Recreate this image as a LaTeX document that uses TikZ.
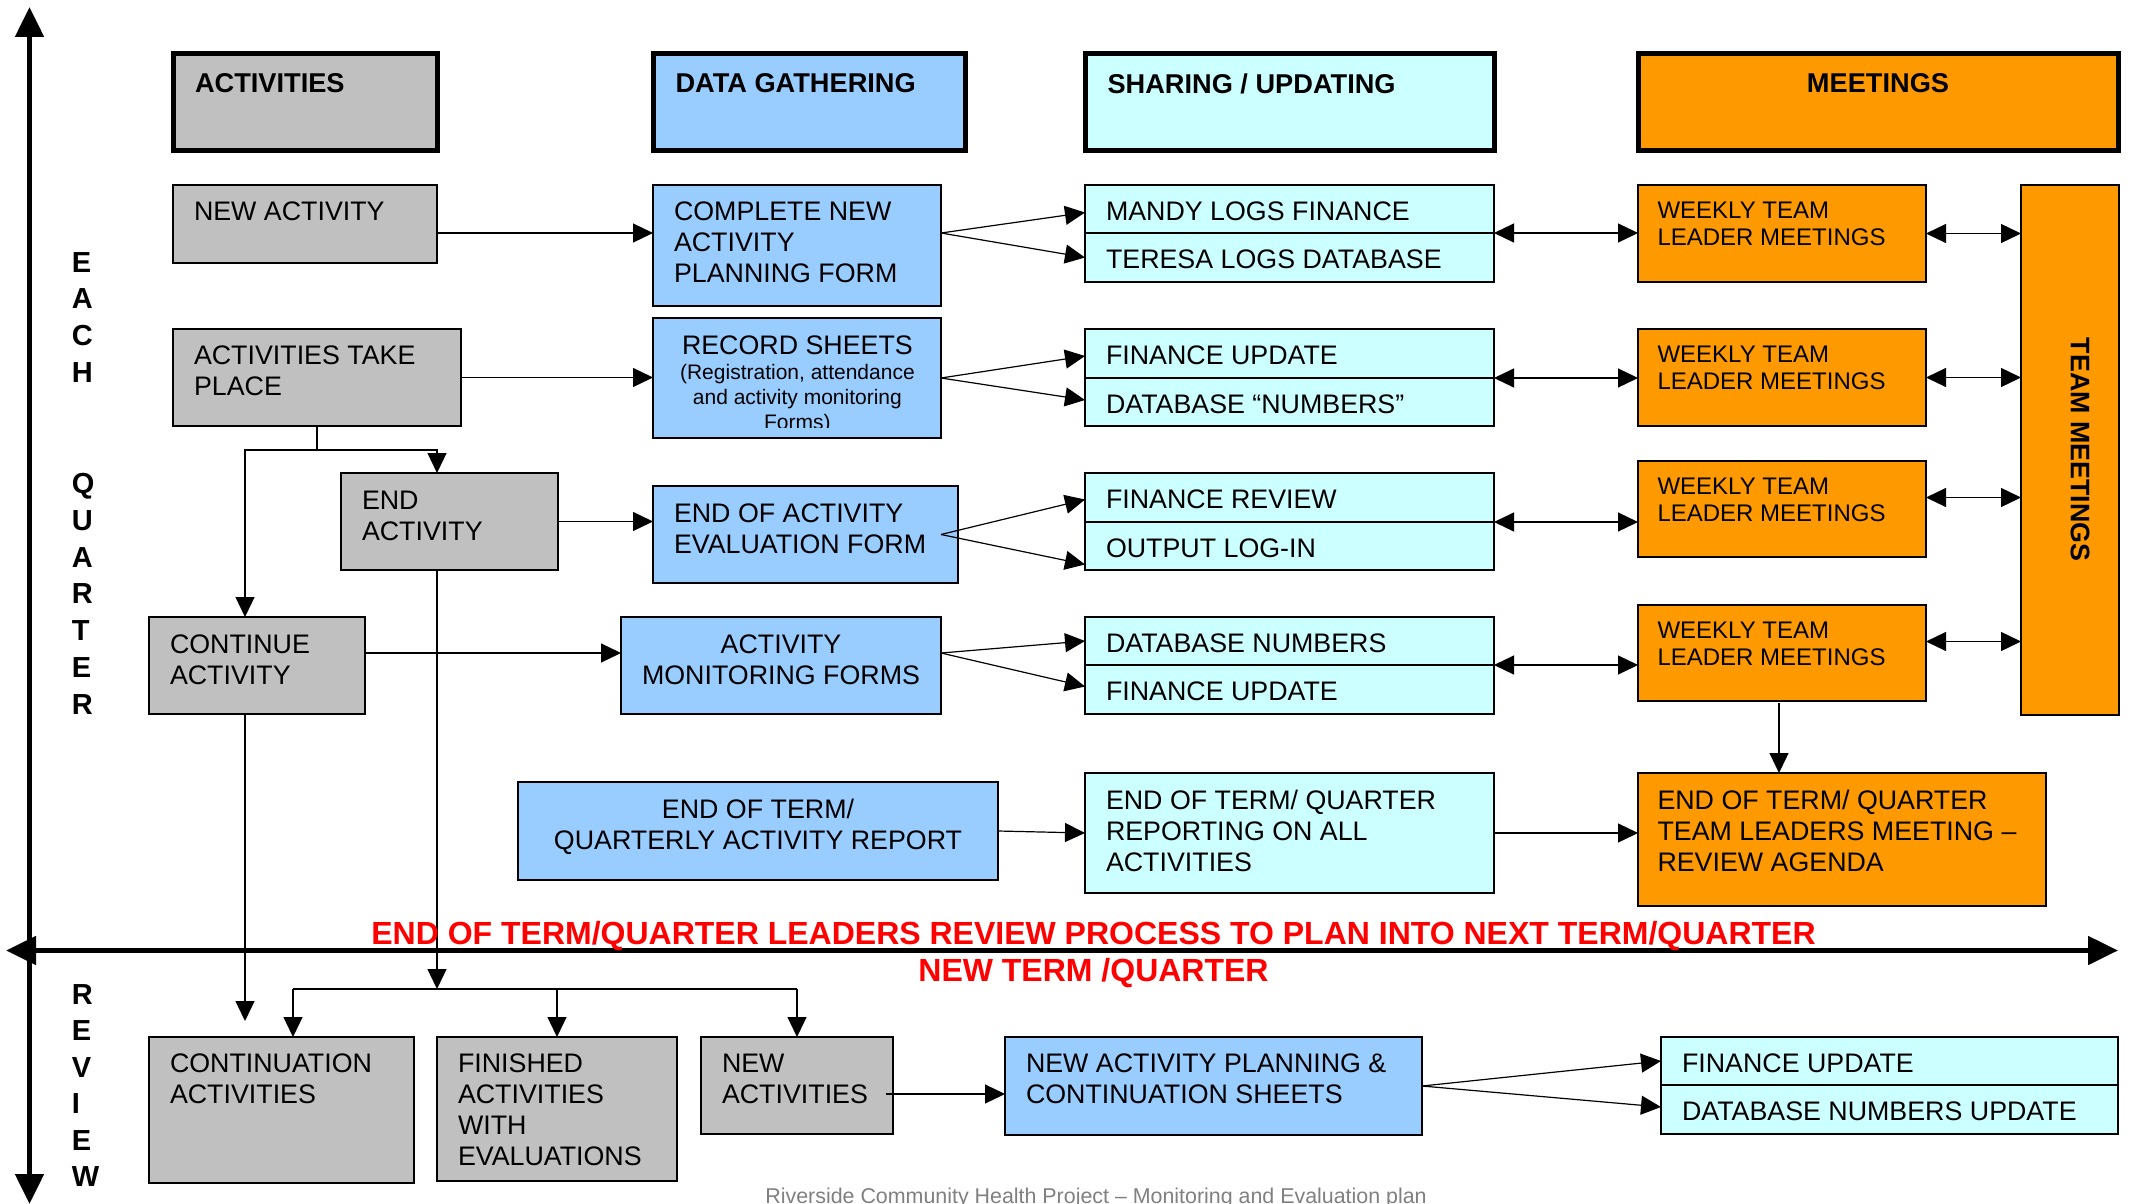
\documentclass[tikz,border=0pt]{standalone}
\usepackage{fontspec}
\setmainfont{Liberation Sans}
\usetikzlibrary{arrows.meta,calc}
\definecolor{cgray}{HTML}{C0C0C0}
\definecolor{cblue}{HTML}{99CCFF}
\definecolor{ccyan}{HTML}{CCFFFF}
\definecolor{corange}{HTML}{FF9900}
\definecolor{cred}{HTML}{FF0000}
\definecolor{cfoot}{HTML}{808080}
\newcommand\fbody{\fontsize{13.4pt}{15.4pt}\selectfont}
\newcommand\fhead{\fontsize{13.6pt}{15.4pt}\selectfont\bfseries}
\newcommand\fweek{\fontsize{12pt}{13.5pt}\selectfont}
\newcommand\fsub{\fontsize{10.5pt}{12.5pt}\selectfont}
% #1 width px, #2 height px, #3 left pad px, #4 top pad px, #5 text
\newcommand\bt[5]{\parbox[c][\dimexpr #2pt/2\relax][t]{\dimexpr #1pt/2\relax}{\vskip\dimexpr #4pt/2\relax\relax\raggedright\leftskip=\dimexpr #3pt/2\relax\relax #5\par}}
% #1 width px, #2 height px, #3 top pad px, #4 text
\newcommand\btc[4]{\parbox[c][\dimexpr #2pt/2\relax][t]{\dimexpr #1pt/2\relax}{\vskip\dimexpr #3pt/2\relax\relax\centering #4\par}}
\tikzset{
 bx/.style={draw=black, line width=0.7pt, inner sep=0pt, outer sep=0pt, anchor=north west, font=\fbody},
 hbx/.style={bx, line width=2.5pt, font=\fhead},
 fgray/.style={fill=cgray}, fblue/.style={fill=cblue}, fcyan/.style={fill=ccyan}, forange/.style={fill=corange},
 ln/.style={line width=0.6pt},
 con/.style={ln, -{Triangle[length=10pt,width=9.5pt]}},
 dcon/.style={ln, {Triangle[length=10pt,width=9.5pt]}-{Triangle[length=10pt,width=9.5pt]}},
 axisln/.style={line width=2.5pt, {Triangle[length=15pt,width=14pt]}-{Triangle[length=15pt,width=14pt]}},
 sidelbl/.style={anchor=base west, inner sep=0pt, font=\fontsize{14.5pt}{14.5pt}\selectfont\bfseries},
 redtxt/.style={anchor=base west, inner sep=0pt, text=cred, font=\fontsize{16pt}{16pt}\selectfont\bfseries},
}
\begin{document}
\begin{tikzpicture}[x=0.5pt,y=-0.5pt]
\useasboundingbox (0,0) rectangle (2130,1204);
\fill[white] (0,0) rectangle (2130,1204);

% axes
\coordinate (vt) at (29.5,7); \coordinate (vb) at (29.5,1204);
\coordinate (hl) at (6,950.5); \coordinate (hr) at (2118,950.5);
\draw[axisln] (vt) -- (vb);
\draw[axisln] (hl) -- (hr);

% headers
\node[hbx,fgray] (hact) at (173,54) {\bt{264}{96}{22}{19.3}{ACTIVITIES}};
\node[hbx,fblue] (hdat) at (653,54) {\bt{312}{96}{22.5}{19.3}{DATA GATHERING}};
\node[hbx,fcyan] (hsha) at (1085,54) {\bt{409}{96}{22.5}{19.3}{SHARING / UPDATING}};
\node[hbx,forange] (hmee) at (1638,54) {\btc{480}{96}{19.3}{MEETINGS}};

% column 1
\node[bx,fgray] (na) at (173,185) {\bt{264}{78}{21}{17}{NEW ACTIVITY}};
\node[bx,fgray] (atp) at (173,329) {\bt{288}{97}{21}{17}{ACTIVITIES TAKE\\PLACE}};
\node[bx,fgray] (ea) at (341,473) {\bt{217}{97}{21}{18}{END\\ACTIVITY}};
\node[bx,fgray] (ca) at (149,617) {\bt{216}{97}{21}{17.5}{CONTINUE\\ACTIVITY}};

% column 2
\node[bx,fblue] (cnf) at (653,185) {\bt{288}{121}{21}{17}{COMPLETE NEW\\ACTIVITY\\PLANNING FORM}};
\node[bx,fblue,minimum width=144pt,minimum height=60pt] (rs) at (653,318) {};
\begin{scope}
 \clip (rs.north west) rectangle ($(rs.south east)+(0,-11)$);
 \node[anchor=north west,inner sep=0pt,font=\fbody] (rst) at (rs.north west) {\btc{288}{120}{17}{{\fbody RECORD SHEETS}\\\fsub (Registration, attendance\\and activity monitoring\\Forms)}};
\end{scope}
\node[bx,fblue] (eef) at (653,486) {\bt{305}{97}{21}{18}{END OF ACTIVITY\\EVALUATION FORM}};
\node[bx,fblue] (amf) at (621,617) {\btc{320}{97}{17.7}{ACTIVITY\\MONITORING FORMS}};
\node[bx,fblue] (rep) at (518,782) {\btc{480}{98}{17.5}{END OF TERM/\\QUARTERLY ACTIVITY REPORT}};

% column 3
\node[bx,fcyan] (s1a) at (1085,185) {\bt{409}{48}{21}{17}{MANDY LOGS FINANCE}};
\node[bx,fcyan] (s1b) at (1085,233) {\bt{409}{49}{21}{17}{TERESA LOGS DATABASE}};
\node[bx,fcyan] (s2a) at (1085,329) {\bt{409}{49}{21}{17}{FINANCE UPDATE}};
\node[bx,fcyan] (s2b) at (1085,378) {\bt{409}{48}{21}{17}{DATABASE “NUMBERS”}};
\node[bx,fcyan] (s3a) at (1085,473) {\bt{409}{49}{21}{17}{FINANCE REVIEW}};
\node[bx,fcyan] (s3b) at (1085,522) {\bt{409}{48}{21}{17}{OUTPUT LOG-IN}};
\node[bx,fcyan] (s4a) at (1085,617) {\bt{409}{48}{21}{17}{DATABASE NUMBERS}};
\node[bx,fcyan] (s4b) at (1085,665) {\bt{409}{49}{21}{17}{FINANCE UPDATE}};
\node[bx,fcyan] (s5) at (1085,773) {\bt{409}{120}{21}{17}{END OF TERM/ QUARTER\\REPORTING ON ALL\\ACTIVITIES}};

% column 4
\node[bx,forange] (w1) at (1638,185) {\bt{288}{97}{19.5}{17}{\fweek WEEKLY TEAM\\LEADER MEETINGS}};
\node[bx,forange] (w2) at (1638,329) {\bt{288}{97}{19.5}{17}{\fweek WEEKLY TEAM\\LEADER MEETINGS}};
\node[bx,forange] (w3) at (1638,461) {\bt{288}{96}{19.5}{17}{\fweek WEEKLY TEAM\\LEADER MEETINGS}};
\node[bx,forange] (w4) at (1638,605) {\bt{288}{96}{19.5}{17}{\fweek WEEKLY TEAM\\LEADER MEETINGS}};
\node[bx,forange,minimum width=49pt,minimum height=265pt] (tm) at (2021,185) {};
\node[rotate=-90, inner sep=0pt, font=\fontsize{13.4pt}{13.4pt}\selectfont\bfseries] (tmt) at (2080,449.5) {TEAM MEETINGS};
\node[bx,forange] (tl) at (1638,773) {\bt{408}{133}{19.5}{17}{END OF TERM/ QUARTER\\TEAM LEADERS MEETING –\\REVIEW AGENDA}};

% bottom row
\node[bx,fgray] (cont2) at (149,1037) {\bt{265}{146}{21}{17}{CONTINUATION\\ACTIVITIES}};
\node[bx,fgray] (fin) at (437,1037) {\bt{240}{144}{21}{17}{FINISHED\\ACTIVITIES\\WITH\\EVALUATIONS}};
\node[bx,fgray] (newa) at (701,1037) {\bt{192}{97}{21}{17}{NEW\\ACTIVITIES}};
\node[bx,fblue] (nap) at (1005,1037) {\bt{417}{98}{21}{17}{NEW ACTIVITY PLANNING \&\\CONTINUATION SHEETS}};
\node[bx,fcyan] (bfu) at (1661,1037) {\bt{457}{48}{21}{17}{FINANCE UPDATE}};
\node[bx,fcyan] (bdb) at (1661,1085) {\bt{457}{49}{21}{17}{DATABASE NUMBERS UPDATE}};

% row 1 connectors
\draw[con] ($(na.north east)+(0,48)$) -- ($(cnf.north west)+(0,48)$);
\coordinate (cnfo) at ($(cnf.north east)+(0,48)$);
\draw[con] (cnfo) -- ($(s1a.west)+(0,3.5)$);
\draw[con] (cnfo) -- (s1b.west);
\draw[dcon] (s1a.south east) -- (s1a.south east -| w1.west);
\draw[dcon] (w1.east) -- (w1.east -| tm.west);

% row 2
\draw[con] (atp.east) -- (atp.east -| rs.west);
\draw[con] (rs.east) -- ($(s2a.west)+(0,2.5)$);
\draw[con] (rs.east) -- ($(s2b.west)+(0,-2)$);
\draw[dcon] (s2a.south east) -- (s2a.south east -| w2.west);
\draw[dcon] (w2.east) -- (w2.east -| tm.west);

% row 3
\draw[con] (ea.east) -- (ea.east -| eef.west);
\coordinate (eefo) at ($(eef.east)+(-17,0)$);
\draw[con] (eefo) -- ($(s3a.west)+(0,2)$);
\draw[con] (eefo) -- ($(s3b.west)+(0,18.5)$);
\draw[dcon] (s3a.south east) -- (s3a.south east -| w3.west);
\coordinate (w3r) at ($(w3.north east)+(0,36.5)$);
\draw[dcon] (w3r) -- (w3r -| tm.west);

% row 4
\coordinate (cao) at ($(ca.north east)+(0,36)$);
\draw[con] (cao) -- (cao -| amf.west);
\coordinate (amfo) at ($(amf.north east)+(0,36)$);
\draw[con] (amfo) -- (s4a.west);
\draw[con] (amfo) -- ($(s4b.west)+(0,-3)$);
\draw[dcon] (s4a.south east) -- (s4a.south east -| w4.west);
\coordinate (w4r) at ($(w4.north east)+(0,36.5)$);
\draw[dcon] (w4r) -- (w4r -| tm.west);
\draw[con] ($(w4.south)+(-3,2)$) -- ($(tl.north west)+(141,0)$);

% row 5
\draw[con] (rep.east) -- (s5.west);
\draw[con] (s5.east) -- (s5.east -| tl.west);

% left side flow
\coordinate (jt) at ($(atp.south)+(0,24)$);
\draw[ln] (atp.south) -- (jt);
\draw[con] (jt) -| ($(ea.north west)+(96,0)$);
\draw[con] (jt) -| ($(ca.north west)+(96,0)$);
\draw[con] ($(ca.south west)+(96,0)$) -- ($(cont2.north west)+(96,-16)$);
\coordinate (jd) at ($(fin.north west)+(0,-48)$);
\draw[con] ($(ea.south west)+(96,0)$) -- (jd);
\coordinate (dl) at ($(cont2.north west)+(144,-48)$);
\coordinate (dr) at ($(newa.north)+(0,-48)$);
\draw[ln] (dl) -- (dr);
\draw[con] (dl) -- (dl |- cont2.north);
\draw[con] (fin.north |- dl) -- (fin.north);
\draw[con] (dr) -- (newa.north);
\coordinate (nao) at ($(newa.north east)+(-7,57)$);
\draw[con] (nao) -- (nao -| nap.west);
\draw[con] (nap.east) -- (bfu.west);
\draw[con] (nap.east) -- ($(bdb.west)+(0,-2.5)$);

% side letters
\foreach \l [count=\i from 0] in {E,A,C,H}
  \node[sidelbl] (each\i) at (71.5, 272.1+36.8*\i) {\l};
\foreach \l [count=\i from 0] in {Q,U,A,R,T,E,R}
  \node[sidelbl] (quar\i) at (71.5, 493.5+36.8*\i) {\l};
\foreach \l [count=\i from 0] in {R,E,V,I,E,W}
  \node[sidelbl] (rev\i) at (71.5, 1004.2+36.5*\i) {\l};

% red texts
\node[redtxt] (rt1) at (371,944) {END OF TERM/QUARTER LEADERS REVIEW PROCESS TO PLAN INTO NEXT TERM/QUARTER};
\node[redtxt] (rt2) at (918,981.4) {NEW TERM /QUARTER};

% footer
\node[anchor=base west, inner sep=0pt, text=cfoot, font=\fontsize{10.7pt}{12pt}\selectfont] (foot) at (765,1203) {Riverside Community Health Project – Monitoring and Evaluation plan};
\end{tikzpicture}
\end{document}
